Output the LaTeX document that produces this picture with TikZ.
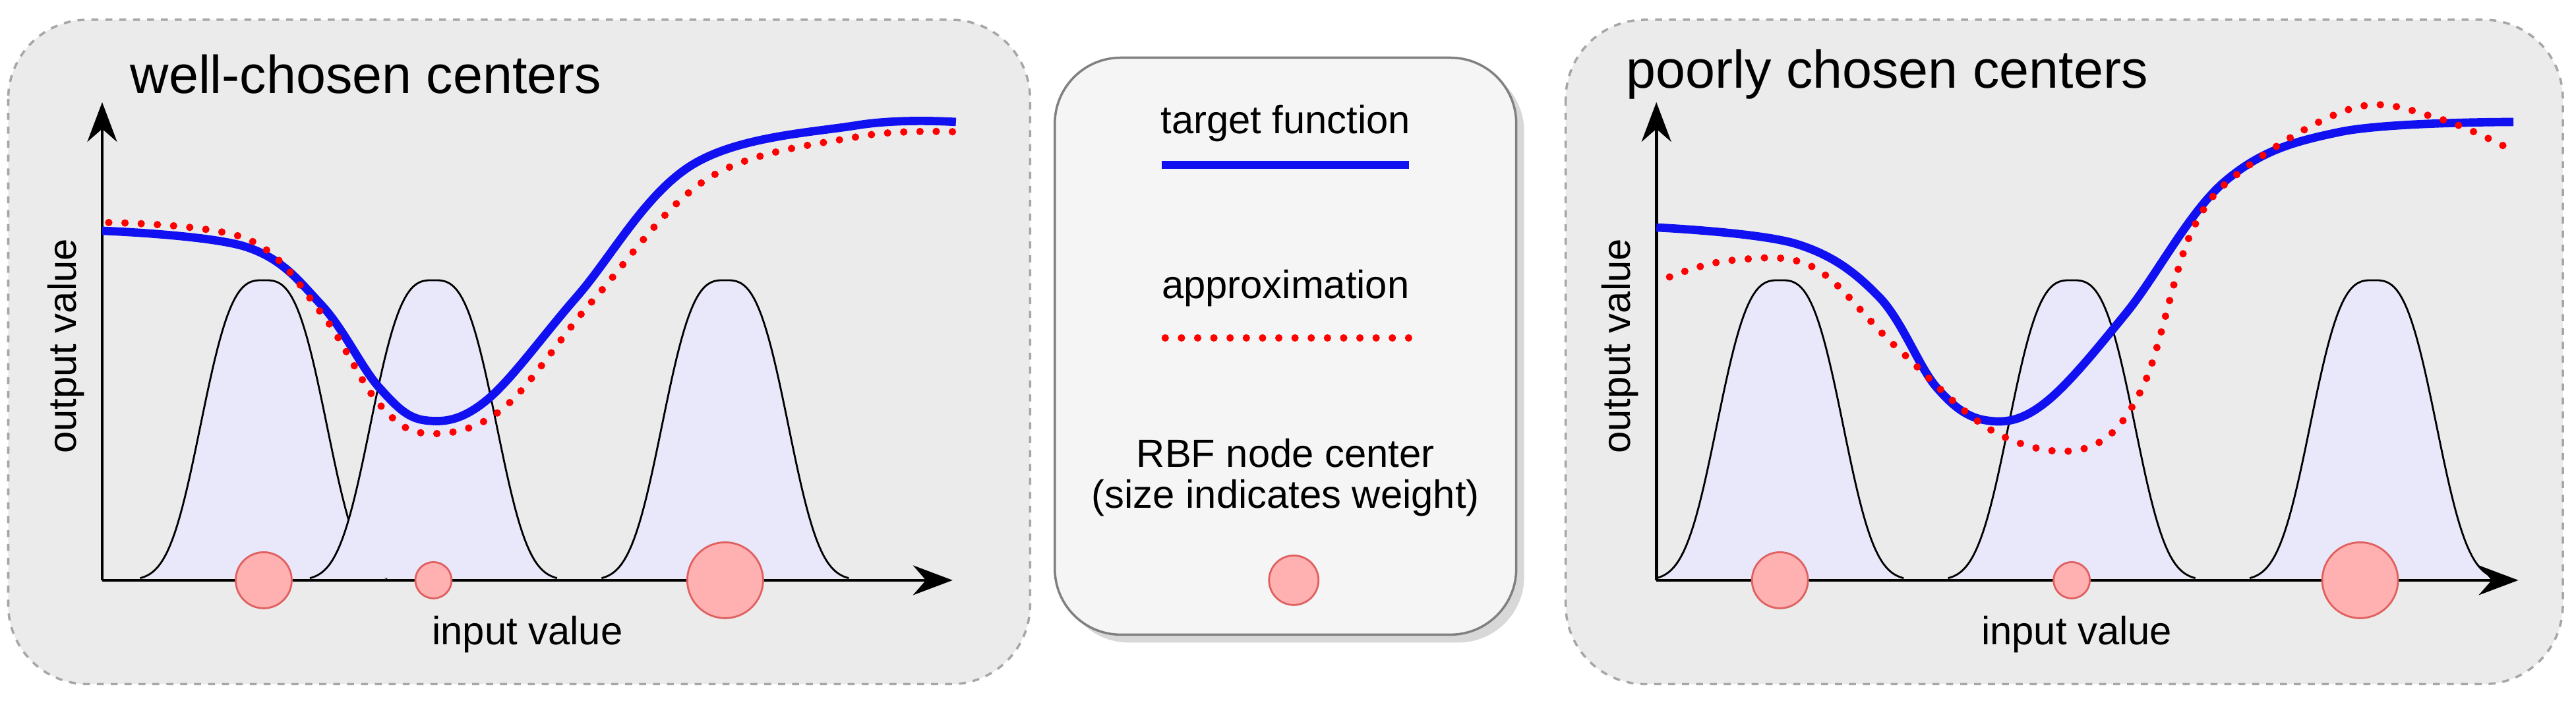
\documentclass[tikz,border=0pt]{standalone}
\usepackage{fontspec}
\setmainfont{Liberation Sans}
\usetikzlibrary{arrows.meta,shadows}
\definecolor{panel}{HTML}{EBEBEB}
\definecolor{lav}{HTML}{E8E8FA}
\definecolor{dotc}{HTML}{FFB0B0}
\definecolor{dotb}{HTML}{E06060}
\definecolor{tblue}{HTML}{1010F0}
\tikzset{
 panelbox/.style={draw=gray!70,dashed,line width=1pt,fill=panel,rounded corners=1.2cm},
 axis/.style={line width=1.3pt,-{Stealth[length=0.6cm,width=0.45cm]}},
 bell/.style={draw=black,line width=0.8pt,fill=lav},
 ctr/.style={circle,draw=dotb,fill=dotc,line width=0.8pt,inner sep=0pt},
 target/.style={draw=tblue,line width=3.6pt},
 approx/.style={draw=red,line width=3.2pt,line cap=round,dash pattern=on 0pt off 7pt},
 title/.style={font=\fontsize{23}{27}\selectfont},
 lab/.style={font=\fontsize{17}{20}\selectfont},
}
\begin{document}
\begin{tikzpicture}[x=0.025cm,y=-0.025cm]
\useasboundingbox (0,0) rectangle (1563,425);
% panels
\path[panelbox] (5,12) rectangle (625,415);
\path[panelbox] (950,12) rectangle (1555,415);
\path[draw=gray,line width=1pt,fill=gray!8,rounded corners=1cm,drop shadow={shadow xshift=0.12cm,shadow yshift=-0.12cm,fill=gray!60}] (640,35) rectangle (920,385);
% left panel
\node[title] (t1) at (222,45) {well-chosen centers};
\foreach \c in {160,263,440}{
 \path[bell] plot[domain=\c-75:\c+75,samples=100] (\x,{352-182*exp(-(abs(\x-\c)/44)^3)});
}
\draw[axis] (62,352) -- (62,62);
\draw[axis] (62,352) -- (578,352);
\node[lab,rotate=90] (y1) at (40,210) {output value};
\node[lab] (x1) at (320,385) {input value};
\node[ctr,minimum size=34*0.025cm] (c1) at (160,352) {};
\node[ctr,minimum size=22*0.025cm] (c2) at (263,352) {};
\node[ctr,minimum size=46*0.025cm] (c3) at (440,352) {};
\draw[target] plot[smooth,tension=0.6] coordinates {(62,140) (150,150) (195,185) (230,235) (258,255) (295,243) (350,180) (420,100) (520,76) (580,74)};
\draw[approx] plot[smooth,tension=0.6] coordinates {(66,135) (150,145) (195,190) (230,245) (260,263) (305,248) (360,182) (430,108) (520,83) (580,80)};
% legend
\node[lab] (l1) at (780,75) {target function};
\coordinate (la) at (705,100); \coordinate (lb) at (855,100);
\draw[target] (la) -- (lb);
\node[lab] (l2) at (780,175) {approximation};
\coordinate (lc) at (707,205); \coordinate (ld) at (855,205);
\draw[approx] (lc) -- (ld);
\node[lab] (l3) at (780,275) {RBF node center};
\node[lab] (l4) at (780,302) {(size indicates weight)};
\node[ctr,minimum size=30*0.025cm] (lc4) at (785,352) {};
% right panel
\node[title] (t2) at (1145,45) {poorly chosen centers};
\foreach \c in {1080,1257,1440}{
 \path[bell] plot[domain=\c-75:\c+75,samples=100] (\x,{352-182*exp(-(abs(\x-\c)/44)^3)});
}
\draw[axis] (1005,352) -- (1005,62);
\draw[axis] (1005,352) -- (1528,352);
\node[lab,rotate=90] (y2) at (983,210) {output value};
\node[lab] (x2) at (1260,385) {input value};
\node[ctr,minimum size=34*0.025cm] (d1) at (1080,352) {};
\node[ctr,minimum size=22*0.025cm] (d2) at (1257,352) {};
\node[ctr,minimum size=46*0.025cm] (d3) at (1432,352) {};
\draw[target] plot[smooth,tension=0.6] coordinates {(1005,138) (1090,148) (1140,180) (1175,235) (1205,255) (1240,245) (1290,190) (1350,110) (1420,80) (1525,74)};
\draw[approx] plot[smooth,tension=0.6] coordinates {(1013,168) (1050,158) (1100,162) (1150,210) (1210,262) (1265,272) (1300,235) (1330,140) (1365,100) (1430,65) (1480,72) (1522,90)};
\end{tikzpicture}
\end{document}
